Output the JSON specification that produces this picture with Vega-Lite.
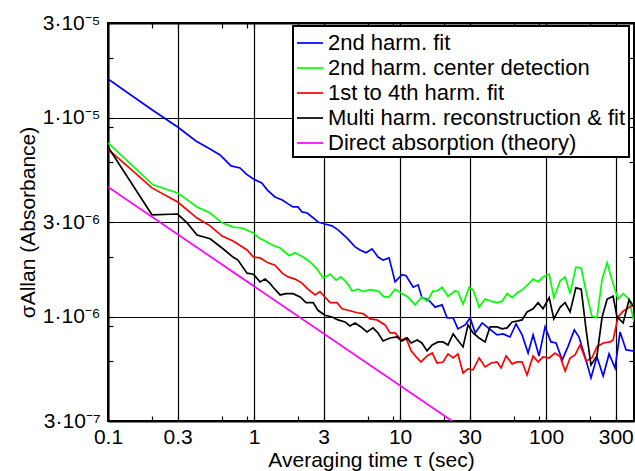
{
  "$schema": "https://vega.github.io/schema/vega-lite/v6.json",
  "width": 526,
  "height": 398,
  "autosize": "none",
  "padding": {"left": 108, "top": 23, "right": 1, "bottom": 50},
  "background": "white",
  "config": {
    "font": "Liberation Sans",
    "view": {"stroke": "black", "strokeWidth": 2},
    "axis": {
      "domainColor": "black", "domainWidth": 2,
      "tickColor": "black", "tickWidth": 1.2, "tickSize": -5,
      "labelColor": "black", "labelFontSize": 21, "labelFont": "Liberation Sans",
      "titleFontSize": 21, "titleFontWeight": "normal", "titleColor": "black", "titleFont": "Liberation Sans",
      "gridColor": "black", "gridWidth": 1.2,
      "labelOverlap": false, "labelFlush": false
    },
    "legend": {"strokeWidth": 2}
  },
  "datasets": {
    "curves": [
      {"series": "2nd harm. fit", "tau": 0.1, "sigma": 1.57e-5},
      {"series": "2nd harm. fit", "tau": 0.2, "sigma": 1.10e-5},
      {"series": "2nd harm. fit", "tau": 0.3, "sigma": 9.0e-6},
      {"series": "2nd harm. fit", "tau": 0.4, "sigma": 7.66e-6},
      {"series": "2nd harm. fit", "tau": 0.5, "sigma": 6.98e-6},
      {"series": "2nd harm. fit", "tau": 0.585, "sigma": 6.52e-6},
      {"series": "2nd harm. fit", "tau": 0.696, "sigma": 5.74e-6},
      {"series": "2nd harm. fit", "tau": 0.802, "sigma": 5.61e-6},
      {"series": "2nd harm. fit", "tau": 0.882, "sigma": 5.23e-6},
      {"series": "2nd harm. fit", "tau": 0.99, "sigma": 4.94e-6},
      {"series": "2nd harm. fit", "tau": 1.13, "sigma": 4.71e-6},
      {"series": "2nd harm. fit", "tau": 1.23, "sigma": 4.35e-6},
      {"series": "2nd harm. fit", "tau": 1.39, "sigma": 4.01e-6},
      {"series": "2nd harm. fit", "tau": 1.56, "sigma": 3.87e-6},
      {"series": "2nd harm. fit", "tau": 1.71, "sigma": 3.70e-6},
      {"series": "2nd harm. fit", "tau": 1.85, "sigma": 3.57e-6},
      {"series": "2nd harm. fit", "tau": 2.0, "sigma": 3.57e-6},
      {"series": "2nd harm. fit", "tau": 2.13, "sigma": 3.37e-6},
      {"series": "2nd harm. fit", "tau": 2.31, "sigma": 3.33e-6},
      {"series": "2nd harm. fit", "tau": 2.5, "sigma": 3.18e-6},
      {"series": "2nd harm. fit", "tau": 2.74, "sigma": 3.0e-6},
      {"series": "2nd harm. fit", "tau": 3.06, "sigma": 2.93e-6},
      {"series": "2nd harm. fit", "tau": 3.42, "sigma": 2.87e-6},
      {"series": "2nd harm. fit", "tau": 3.76, "sigma": 2.74e-6},
      {"series": "2nd harm. fit", "tau": 4.34, "sigma": 2.49e-6},
      {"series": "2nd harm. fit", "tau": 4.92, "sigma": 2.25e-6},
      {"series": "2nd harm. fit", "tau": 5.32, "sigma": 2.17e-6},
      {"series": "2nd harm. fit", "tau": 5.85, "sigma": 2.10e-6},
      {"series": "2nd harm. fit", "tau": 6.43, "sigma": 2.20e-6},
      {"series": "2nd harm. fit", "tau": 7.07, "sigma": 2.0e-6},
      {"series": "2nd harm. fit", "tau": 7.65, "sigma": 1.93e-6},
      {"series": "2nd harm. fit", "tau": 8.41, "sigma": 1.98e-6},
      {"series": "2nd harm. fit", "tau": 9.25, "sigma": 1.50e-6},
      {"series": "2nd harm. fit", "tau": 10.3, "sigma": 1.63e-6},
      {"series": "2nd harm. fit", "tau": 11.0, "sigma": 1.61e-6},
      {"series": "2nd harm. fit", "tau": 12.3, "sigma": 1.41e-6},
      {"series": "2nd harm. fit", "tau": 13.3, "sigma": 1.45e-6},
      {"series": "2nd harm. fit", "tau": 14.1, "sigma": 1.25e-6},
      {"series": "2nd harm. fit", "tau": 15.6, "sigma": 1.22e-6},
      {"series": "2nd harm. fit", "tau": 17.4, "sigma": 1.12e-6},
      {"series": "2nd harm. fit", "tau": 19.4, "sigma": 1.15e-6},
      {"series": "2nd harm. fit", "tau": 21.0, "sigma": 9.89e-7},
      {"series": "2nd harm. fit", "tau": 23.1, "sigma": 9.89e-7},
      {"series": "2nd harm. fit", "tau": 24.9, "sigma": 8.71e-7},
      {"series": "2nd harm. fit", "tau": 27.9, "sigma": 9.12e-7},
      {"series": "2nd harm. fit", "tau": 30.2, "sigma": 9.89e-7},
      {"series": "2nd harm. fit", "tau": 32.7, "sigma": 8.31e-7},
      {"series": "2nd harm. fit", "tau": 36.5, "sigma": 9.33e-7},
      {"series": "2nd harm. fit", "tau": 40.1, "sigma": 8.81e-7},
      {"series": "2nd harm. fit", "tau": 46.2, "sigma": 8.12e-7},
      {"series": "2nd harm. fit", "tau": 50.8, "sigma": 8.22e-7},
      {"series": "2nd harm. fit", "tau": 56.6, "sigma": 7.93e-7},
      {"series": "2nd harm. fit", "tau": 62.3, "sigma": 9.22e-7},
      {"series": "2nd harm. fit", "tau": 68.5, "sigma": 8.12e-7},
      {"series": "2nd harm. fit", "tau": 75.3, "sigma": 6.59e-7},
      {"series": "2nd harm. fit", "tau": 81.5, "sigma": 8.12e-7},
      {"series": "2nd harm. fit", "tau": 89.5, "sigma": 6.37e-7},
      {"series": "2nd harm. fit", "tau": 98.4, "sigma": 8.91e-7},
      {"series": "2nd harm. fit", "tau": 108, "sigma": 7.49e-7},
      {"series": "2nd harm. fit", "tau": 117, "sigma": 7.40e-7},
      {"series": "2nd harm. fit", "tau": 129, "sigma": 6.08e-7},
      {"series": "2nd harm. fit", "tau": 141, "sigma": 7.07e-7},
      {"series": "2nd harm. fit", "tau": 156, "sigma": 8.61e-7},
      {"series": "2nd harm. fit", "tau": 168, "sigma": 7.93e-7},
      {"series": "2nd harm. fit", "tau": 185, "sigma": 6.30e-7},
      {"series": "2nd harm. fit", "tau": 203, "sigma": 4.94e-7},
      {"series": "2nd harm. fit", "tau": 223, "sigma": 6.30e-7},
      {"series": "2nd harm. fit", "tau": 246, "sigma": 5.05e-7},
      {"series": "2nd harm. fit", "tau": 270, "sigma": 6.52e-7},
      {"series": "2nd harm. fit", "tau": 297, "sigma": 5.54e-7},
      {"series": "2nd harm. fit", "tau": 321, "sigma": 8.41e-7},
      {"series": "2nd harm. fit", "tau": 353, "sigma": 6.83e-7},
      {"series": "2nd harm. fit", "tau": 394, "sigma": 6.75e-7},

      {"series": "2nd harm. center detection", "tau": 0.1, "sigma": 7.49e-6},
      {"series": "2nd harm. center detection", "tau": 0.203, "sigma": 4.61e-6},
      {"series": "2nd harm. center detection", "tau": 0.3, "sigma": 4.20e-6},
      {"series": "2nd harm. center detection", "tau": 0.407, "sigma": 3.57e-6},
      {"series": "2nd harm. center detection", "tau": 0.5, "sigma": 3.33e-6},
      {"series": "2nd harm. center detection", "tau": 0.604, "sigma": 2.97e-6},
      {"series": "2nd harm. center detection", "tau": 0.718, "sigma": 2.83e-6},
      {"series": "2nd harm. center detection", "tau": 0.827, "sigma": 2.80e-6},
      {"series": "2nd harm. center detection", "tau": 0.99, "sigma": 2.64e-6},
      {"series": "2nd harm. center detection", "tau": 1.10, "sigma": 2.47e-6},
      {"series": "2nd harm. center detection", "tau": 1.15, "sigma": 2.44e-6},
      {"series": "2nd harm. center detection", "tau": 1.33, "sigma": 2.30e-6},
      {"series": "2nd harm. center detection", "tau": 1.51, "sigma": 2.22e-6},
      {"series": "2nd harm. center detection", "tau": 1.74, "sigma": 2.03e-6},
      {"series": "2nd harm. center detection", "tau": 1.91, "sigma": 2.10e-6},
      {"series": "2nd harm. center detection", "tau": 2.17, "sigma": 2.0e-6},
      {"series": "2nd harm. center detection", "tau": 2.42, "sigma": 1.89e-6},
      {"series": "2nd harm. center detection", "tau": 2.70, "sigma": 1.74e-6},
      {"series": "2nd harm. center detection", "tau": 2.97, "sigma": 1.57e-6},
      {"series": "2nd harm. center detection", "tau": 3.32, "sigma": 1.64e-6},
      {"series": "2nd harm. center detection", "tau": 3.65, "sigma": 1.53e-6},
      {"series": "2nd harm. center detection", "tau": 3.94, "sigma": 1.59e-6},
      {"series": "2nd harm. center detection", "tau": 4.34, "sigma": 1.48e-6},
      {"series": "2nd harm. center detection", "tau": 4.69, "sigma": 1.35e-6},
      {"series": "2nd harm. center detection", "tau": 5.16, "sigma": 1.38e-6},
      {"series": "2nd harm. center detection", "tau": 5.58, "sigma": 1.34e-6},
      {"series": "2nd harm. center detection", "tau": 6.23, "sigma": 1.37e-6},
      {"series": "2nd harm. center detection", "tau": 7.07, "sigma": 1.35e-6},
      {"series": "2nd harm. center detection", "tau": 7.77, "sigma": 1.26e-6},
      {"series": "2nd harm. center detection", "tau": 8.41, "sigma": 1.26e-6},
      {"series": "2nd harm. center detection", "tau": 9.25, "sigma": 1.38e-6},
      {"series": "2nd harm. center detection", "tau": 10.3, "sigma": 1.31e-6},
      {"series": "2nd harm. center detection", "tau": 11.3, "sigma": 1.26e-6},
      {"series": "2nd harm. center detection", "tau": 12.7, "sigma": 1.15e-6},
      {"series": "2nd harm. center detection", "tau": 14.1, "sigma": 1.26e-6},
      {"series": "2nd harm. center detection", "tau": 15.3, "sigma": 1.20e-6},
      {"series": "2nd harm. center detection", "tau": 16.8, "sigma": 1.35e-6},
      {"series": "2nd harm. center detection", "tau": 17.9, "sigma": 1.35e-6},
      {"series": "2nd harm. center detection", "tau": 19.4, "sigma": 1.41e-6},
      {"series": "2nd harm. center detection", "tau": 21.3, "sigma": 1.27e-6},
      {"series": "2nd harm. center detection", "tau": 23.8, "sigma": 1.35e-6},
      {"series": "2nd harm. center detection", "tau": 24.9, "sigma": 1.34e-6},
      {"series": "2nd harm. center detection", "tau": 27.0, "sigma": 1.16e-6},
      {"series": "2nd harm. center detection", "tau": 29.7, "sigma": 1.41e-6},
      {"series": "2nd harm. center detection", "tau": 31.6, "sigma": 1.37e-6},
      {"series": "2nd harm. center detection", "tau": 34.8, "sigma": 1.12e-6},
      {"series": "2nd harm. center detection", "tau": 38.2, "sigma": 1.23e-6},
      {"series": "2nd harm. center detection", "tau": 42.0, "sigma": 1.20e-6},
      {"series": "2nd harm. center detection", "tau": 46.2, "sigma": 1.18e-6},
      {"series": "2nd harm. center detection", "tau": 50.0, "sigma": 1.20e-6},
      {"series": "2nd harm. center detection", "tau": 54.1, "sigma": 1.31e-6},
      {"series": "2nd harm. center detection", "tau": 58.5, "sigma": 1.25e-6},
      {"series": "2nd harm. center detection", "tau": 63.3, "sigma": 1.32e-6},
      {"series": "2nd harm. center detection", "tau": 69.6, "sigma": 1.38e-6},
      {"series": "2nd harm. center detection", "tau": 75.3, "sigma": 1.46e-6},
      {"series": "2nd harm. center detection", "tau": 81.5, "sigma": 1.55e-6},
      {"series": "2nd harm. center detection", "tau": 88.2, "sigma": 1.50e-6},
      {"series": "2nd harm. center detection", "tau": 95.3, "sigma": 1.59e-6},
      {"series": "2nd harm. center detection", "tau": 105, "sigma": 1.64e-6},
      {"series": "2nd harm. center detection", "tau": 113, "sigma": 1.25e-6},
      {"series": "2nd harm. center detection", "tau": 125, "sigma": 1.52e-6},
      {"series": "2nd harm. center detection", "tau": 135, "sigma": 1.59e-6},
      {"series": "2nd harm. center detection", "tau": 146, "sigma": 1.31e-6},
      {"series": "2nd harm. center detection", "tau": 160, "sigma": 1.78e-6},
      {"series": "2nd harm. center detection", "tau": 174, "sigma": 1.76e-6},
      {"series": "2nd harm. center detection", "tau": 188, "sigma": 1.34e-6},
      {"series": "2nd harm. center detection", "tau": 206, "sigma": 1.01e-6},
      {"series": "2nd harm. center detection", "tau": 223, "sigma": 9.89e-7},
      {"series": "2nd harm. center detection", "tau": 242, "sigma": 1.55e-6},
      {"series": "2nd harm. center detection", "tau": 262, "sigma": 1.87e-6},
      {"series": "2nd harm. center detection", "tau": 283, "sigma": 1.53e-6},
      {"series": "2nd harm. center detection", "tau": 311, "sigma": 1.23e-6},
      {"series": "2nd harm. center detection", "tau": 337, "sigma": 1.31e-6},
      {"series": "2nd harm. center detection", "tau": 370, "sigma": 1.23e-6},
      {"series": "2nd harm. center detection", "tau": 400, "sigma": 9.44e-7},

      {"series": "1st to 4th harm. fit", "tau": 0.1, "sigma": 6.98e-6},
      {"series": "1st to 4th harm. fit", "tau": 0.2, "sigma": 4.45e-6},
      {"series": "1st to 4th harm. fit", "tau": 0.3, "sigma": 3.78e-6},
      {"series": "1st to 4th harm. fit", "tau": 0.407, "sigma": 3.14e-6},
      {"series": "1st to 4th harm. fit", "tau": 0.5, "sigma": 2.87e-6},
      {"series": "1st to 4th harm. fit", "tau": 0.604, "sigma": 2.55e-6},
      {"series": "1st to 4th harm. fit", "tau": 0.718, "sigma": 2.41e-6},
      {"series": "1st to 4th harm. fit", "tau": 0.896, "sigma": 2.17e-6},
      {"series": "1st to 4th harm. fit", "tau": 0.99, "sigma": 2.0e-6},
      {"series": "1st to 4th harm. fit", "tau": 1.10, "sigma": 1.98e-6},
      {"series": "1st to 4th harm. fit", "tau": 1.25, "sigma": 1.87e-6},
      {"series": "1st to 4th harm. fit", "tau": 1.39, "sigma": 1.82e-6},
      {"series": "1st to 4th harm. fit", "tau": 1.56, "sigma": 1.66e-6},
      {"series": "1st to 4th harm. fit", "tau": 1.71, "sigma": 1.59e-6},
      {"series": "1st to 4th harm. fit", "tau": 1.91, "sigma": 1.55e-6},
      {"series": "1st to 4th harm. fit", "tau": 2.13, "sigma": 1.48e-6},
      {"series": "1st to 4th harm. fit", "tau": 2.34, "sigma": 1.38e-6},
      {"series": "1st to 4th harm. fit", "tau": 2.62, "sigma": 1.29e-6},
      {"series": "1st to 4th harm. fit", "tau": 2.83, "sigma": 1.34e-6},
      {"series": "1st to 4th harm. fit", "tau": 3.06, "sigma": 1.26e-6},
      {"series": "1st to 4th harm. fit", "tau": 3.32, "sigma": 1.18e-6},
      {"series": "1st to 4th harm. fit", "tau": 3.70, "sigma": 1.18e-6},
      {"series": "1st to 4th harm. fit", "tau": 4.01, "sigma": 1.10e-6},
      {"series": "1st to 4th harm. fit", "tau": 4.40, "sigma": 1.08e-6},
      {"series": "1st to 4th harm. fit", "tau": 5.08, "sigma": 1.05e-6},
      {"series": "1st to 4th harm. fit", "tau": 5.58, "sigma": 1.04e-6},
      {"series": "1st to 4th harm. fit", "tau": 6.23, "sigma": 9.77e-7},
      {"series": "1st to 4th harm. fit", "tau": 6.96, "sigma": 9.66e-7},
      {"series": "1st to 4th harm. fit", "tau": 7.89, "sigma": 9.12e-7},
      {"series": "1st to 4th harm. fit", "tau": 8.54, "sigma": 8.31e-7},
      {"series": "1st to 4th harm. fit", "tau": 9.25, "sigma": 8.31e-7},
      {"series": "1st to 4th harm. fit", "tau": 10.2, "sigma": 7.66e-7},
      {"series": "1st to 4th harm. fit", "tau": 11.0, "sigma": 7.84e-7},
      {"series": "1st to 4th harm. fit", "tau": 11.9, "sigma": 6.75e-7},
      {"series": "1st to 4th harm. fit", "tau": 12.9, "sigma": 6.30e-7},
      {"series": "1st to 4th harm. fit", "tau": 13.9, "sigma": 5.94e-7},
      {"series": "1st to 4th harm. fit", "tau": 15.3, "sigma": 6.37e-7},
      {"series": "1st to 4th harm. fit", "tau": 16.6, "sigma": 6.59e-7},
      {"series": "1st to 4th harm. fit", "tau": 17.9, "sigma": 5.87e-7},
      {"series": "1st to 4th harm. fit", "tau": 19.7, "sigma": 5.94e-7},
      {"series": "1st to 4th harm. fit", "tau": 21.3, "sigma": 6.52e-7},
      {"series": "1st to 4th harm. fit", "tau": 23.1, "sigma": 6.22e-7},
      {"series": "1st to 4th harm. fit", "tau": 24.9, "sigma": 6.52e-7},
      {"series": "1st to 4th harm. fit", "tau": 27.0, "sigma": 5.23e-7},
      {"series": "1st to 4th harm. fit", "tau": 29.2, "sigma": 5.48e-7},
      {"series": "1st to 4th harm. fit", "tau": 31.6, "sigma": 5.42e-7},
      {"series": "1st to 4th harm. fit", "tau": 34.8, "sigma": 6.22e-7},
      {"series": "1st to 4th harm. fit", "tau": 38.2, "sigma": 5.61e-7},
      {"series": "1st to 4th harm. fit", "tau": 42.0, "sigma": 5.87e-7},
      {"series": "1st to 4th harm. fit", "tau": 46.2, "sigma": 5.94e-7},
      {"series": "1st to 4th harm. fit", "tau": 49.2, "sigma": 5.54e-7},
      {"series": "1st to 4th harm. fit", "tau": 53.2, "sigma": 6.37e-7},
      {"series": "1st to 4th harm. fit", "tau": 58.5, "sigma": 5.81e-7},
      {"series": "1st to 4th harm. fit", "tau": 63.3, "sigma": 5.94e-7},
      {"series": "1st to 4th harm. fit", "tau": 68.5, "sigma": 5.94e-7},
      {"series": "1st to 4th harm. fit", "tau": 74.1, "sigma": 5.11e-7},
      {"series": "1st to 4th harm. fit", "tau": 81.5, "sigma": 6.37e-7},
      {"series": "1st to 4th harm. fit", "tau": 88.2, "sigma": 5.94e-7},
      {"series": "1st to 4th harm. fit", "tau": 95.3, "sigma": 6.30e-7},
      {"series": "1st to 4th harm. fit", "tau": 105, "sigma": 6.22e-7},
      {"series": "1st to 4th harm. fit", "tau": 115, "sigma": 6.59e-7},
      {"series": "1st to 4th harm. fit", "tau": 125, "sigma": 6.30e-7},
      {"series": "1st to 4th harm. fit", "tau": 135, "sigma": 5.35e-7},
      {"series": "1st to 4th harm. fit", "tau": 146, "sigma": 6.22e-7},
      {"series": "1st to 4th harm. fit", "tau": 158, "sigma": 6.44e-7},
      {"series": "1st to 4th harm. fit", "tau": 171, "sigma": 7.23e-7},
      {"series": "1st to 4th harm. fit", "tau": 188, "sigma": 6.01e-7},
      {"series": "1st to 4th harm. fit", "tau": 206, "sigma": 6.22e-7},
      {"series": "1st to 4th harm. fit", "tau": 223, "sigma": 7.07e-7},
      {"series": "1st to 4th harm. fit", "tau": 246, "sigma": 7.40e-7},
      {"series": "1st to 4th harm. fit", "tau": 274, "sigma": 7.49e-7},
      {"series": "1st to 4th harm. fit", "tau": 288, "sigma": 7.66e-7},
      {"series": "1st to 4th harm. fit", "tau": 311, "sigma": 1.0e-6},
      {"series": "1st to 4th harm. fit", "tau": 337, "sigma": 1.07e-6},
      {"series": "1st to 4th harm. fit", "tau": 365, "sigma": 1.11e-6},
      {"series": "1st to 4th harm. fit", "tau": 400, "sigma": 1.16e-6},

      {"series": "Multi harm. reconstruction & fit", "tau": 0.1, "sigma": 7.15e-6},
      {"series": "Multi harm. reconstruction & fit", "tau": 0.2, "sigma": 3.26e-6},
      {"series": "Multi harm. reconstruction & fit", "tau": 0.3, "sigma": 3.29e-6},
      {"series": "Multi harm. reconstruction & fit", "tau": 0.348, "sigma": 2.97e-6},
      {"series": "Multi harm. reconstruction & fit", "tau": 0.407, "sigma": 2.58e-6},
      {"series": "Multi harm. reconstruction & fit", "tau": 0.5, "sigma": 2.47e-6},
      {"series": "Multi harm. reconstruction & fit", "tau": 0.604, "sigma": 2.22e-6},
      {"series": "Multi harm. reconstruction & fit", "tau": 0.718, "sigma": 2.0e-6},
      {"series": "Multi harm. reconstruction & fit", "tau": 0.776, "sigma": 1.93e-6},
      {"series": "Multi harm. reconstruction & fit", "tau": 0.896, "sigma": 1.66e-6},
      {"series": "Multi harm. reconstruction & fit", "tau": 0.99, "sigma": 1.64e-6},
      {"series": "Multi harm. reconstruction & fit", "tau": 1.10, "sigma": 1.50e-6},
      {"series": "Multi harm. reconstruction & fit", "tau": 1.19, "sigma": 1.55e-6},
      {"series": "Multi harm. reconstruction & fit", "tau": 1.29, "sigma": 1.47e-6},
      {"series": "Multi harm. reconstruction & fit", "tau": 1.35, "sigma": 1.41e-6},
      {"series": "Multi harm. reconstruction & fit", "tau": 1.51, "sigma": 1.29e-6},
      {"series": "Multi harm. reconstruction & fit", "tau": 1.66, "sigma": 1.31e-6},
      {"series": "Multi harm. reconstruction & fit", "tau": 1.85, "sigma": 1.31e-6},
      {"series": "Multi harm. reconstruction & fit", "tau": 2.07, "sigma": 1.26e-6},
      {"series": "Multi harm. reconstruction & fit", "tau": 2.27, "sigma": 1.18e-6},
      {"series": "Multi harm. reconstruction & fit", "tau": 2.54, "sigma": 1.18e-6},
      {"series": "Multi harm. reconstruction & fit", "tau": 2.74, "sigma": 1.08e-6},
      {"series": "Multi harm. reconstruction & fit", "tau": 3.06, "sigma": 1.02e-6},
      {"series": "Multi harm. reconstruction & fit", "tau": 3.42, "sigma": 1.0e-6},
      {"series": "Multi harm. reconstruction & fit", "tau": 3.76, "sigma": 9.66e-7},
      {"series": "Multi harm. reconstruction & fit", "tau": 4.20, "sigma": 9.44e-7},
      {"series": "Multi harm. reconstruction & fit", "tau": 4.54, "sigma": 9.01e-7},
      {"series": "Multi harm. reconstruction & fit", "tau": 4.92, "sigma": 9.33e-7},
      {"series": "Multi harm. reconstruction & fit", "tau": 5.40, "sigma": 8.91e-7},
      {"series": "Multi harm. reconstruction & fit", "tau": 5.94, "sigma": 8.41e-7},
      {"series": "Multi harm. reconstruction & fit", "tau": 6.53, "sigma": 8.81e-7},
      {"series": "Multi harm. reconstruction & fit", "tau": 7.07, "sigma": 8.31e-7},
      {"series": "Multi harm. reconstruction & fit", "tau": 7.65, "sigma": 7.57e-7},
      {"series": "Multi harm. reconstruction & fit", "tau": 8.54, "sigma": 7.84e-7},
      {"series": "Multi harm. reconstruction & fit", "tau": 9.54, "sigma": 7.93e-7},
      {"series": "Multi harm. reconstruction & fit", "tau": 10.3, "sigma": 7.57e-7},
      {"series": "Multi harm. reconstruction & fit", "tau": 11.2, "sigma": 7.84e-7},
      {"series": "Multi harm. reconstruction & fit", "tau": 11.9, "sigma": 7.40e-7},
      {"series": "Multi harm. reconstruction & fit", "tau": 13.1, "sigma": 7.66e-7},
      {"series": "Multi harm. reconstruction & fit", "tau": 14.1, "sigma": 7.40e-7},
      {"series": "Multi harm. reconstruction & fit", "tau": 15.3, "sigma": 6.75e-7},
      {"series": "Multi harm. reconstruction & fit", "tau": 16.6, "sigma": 7.23e-7},
      {"series": "Multi harm. reconstruction & fit", "tau": 18.2, "sigma": 7.49e-7},
      {"series": "Multi harm. reconstruction & fit", "tau": 19.7, "sigma": 7.49e-7},
      {"series": "Multi harm. reconstruction & fit", "tau": 21.3, "sigma": 7.23e-7},
      {"series": "Multi harm. reconstruction & fit", "tau": 23.1, "sigma": 8.22e-7},
      {"series": "Multi harm. reconstruction & fit", "tau": 24.5, "sigma": 7.75e-7},
      {"series": "Multi harm. reconstruction & fit", "tau": 27.0, "sigma": 7.07e-7},
      {"series": "Multi harm. reconstruction & fit", "tau": 29.2, "sigma": 9.12e-7},
      {"series": "Multi harm. reconstruction & fit", "tau": 31.6, "sigma": 8.31e-7},
      {"series": "Multi harm. reconstruction & fit", "tau": 34.8, "sigma": 7.84e-7},
      {"series": "Multi harm. reconstruction & fit", "tau": 38.2, "sigma": 7.49e-7},
      {"series": "Multi harm. reconstruction & fit", "tau": 41.3, "sigma": 8.91e-7},
      {"series": "Multi harm. reconstruction & fit", "tau": 46.2, "sigma": 8.91e-7},
      {"series": "Multi harm. reconstruction & fit", "tau": 50.0, "sigma": 8.71e-7},
      {"series": "Multi harm. reconstruction & fit", "tau": 54.1, "sigma": 8.81e-7},
      {"series": "Multi harm. reconstruction & fit", "tau": 58.5, "sigma": 9.44e-7},
      {"series": "Multi harm. reconstruction & fit", "tau": 64.3, "sigma": 9.55e-7},
      {"series": "Multi harm. reconstruction & fit", "tau": 68.5, "sigma": 9.66e-7},
      {"series": "Multi harm. reconstruction & fit", "tau": 74.1, "sigma": 1.06e-6},
      {"series": "Multi harm. reconstruction & fit", "tau": 81.5, "sigma": 1.10e-6},
      {"series": "Multi harm. reconstruction & fit", "tau": 88.2, "sigma": 1.18e-6},
      {"series": "Multi harm. reconstruction & fit", "tau": 95.3, "sigma": 1.10e-6},
      {"series": "Multi harm. reconstruction & fit", "tau": 105, "sigma": 1.25e-6},
      {"series": "Multi harm. reconstruction & fit", "tau": 113, "sigma": 9.77e-7},
      {"series": "Multi harm. reconstruction & fit", "tau": 125, "sigma": 1.12e-6},
      {"series": "Multi harm. reconstruction & fit", "tau": 135, "sigma": 1.18e-6},
      {"series": "Multi harm. reconstruction & fit", "tau": 146, "sigma": 1.06e-6},
      {"series": "Multi harm. reconstruction & fit", "tau": 160, "sigma": 1.40e-6},
      {"series": "Multi harm. reconstruction & fit", "tau": 174, "sigma": 1.38e-6},
      {"series": "Multi harm. reconstruction & fit", "tau": 188, "sigma": 8.61e-7},
      {"series": "Multi harm. reconstruction & fit", "tau": 203, "sigma": 5.74e-7},
      {"series": "Multi harm. reconstruction & fit", "tau": 223, "sigma": 6.37e-7},
      {"series": "Multi harm. reconstruction & fit", "tau": 242, "sigma": 1.0e-6},
      {"series": "Multi harm. reconstruction & fit", "tau": 262, "sigma": 1.23e-6},
      {"series": "Multi harm. reconstruction & fit", "tau": 288, "sigma": 1.27e-6},
      {"series": "Multi harm. reconstruction & fit", "tau": 306, "sigma": 1.0e-6},
      {"series": "Multi harm. reconstruction & fit", "tau": 337, "sigma": 9.33e-7},
      {"series": "Multi harm. reconstruction & fit", "tau": 370, "sigma": 1.22e-6},
      {"series": "Multi harm. reconstruction & fit", "tau": 400, "sigma": 1.12e-6},

      {"series": "Direct absorption (theory)", "tau": 0.1, "sigma": 4.5e-6},
      {"series": "Direct absorption (theory)", "tau": 22.7, "sigma": 3.0e-7}
    ]
  },
  "data": {"name": "curves"},
  "layer": [
    {
      "mark": {"type": "line", "strokeWidth": 1.7, "clip": true},
      "encoding": {
        "x": {
          "field": "tau", "type": "quantitative",
          "scale": {"type": "log", "domain": [0.1, 400]},
          "axis": {
            "orient": "bottom",
            "title": "Averaging time τ (sec)",
            "values": [0.1, 0.2, 0.3, 0.6, 0.9, 1, 2, 3, 6, 9, 10, 20, 30, 60, 90, 100, 200, 300],
            "labelExpr": "indexof([0.1, 0.3, 1, 3, 10, 30, 100, 300], datum.value) >= 0 ? '' + datum.value : ''",
            "gridOpacity": {"condition": {"test": "indexof([0.1, 0.3, 1, 3, 10, 30, 100, 300], datum.value) >= 0", "value": 1}, "value": 0},
            "grid": true,
            "labelPadding": 10,
            "titlePadding": 2
          }
        },
        "y": {
          "field": "sigma", "type": "quantitative",
          "scale": {"type": "log", "domain": [3e-7, 3e-5]},
          "axis": {
            "orient": "left",
            "title": "σAllan (Absorbance)",
            "values": [3e-7, 6e-7, 9e-7, 1e-6, 2e-6, 3e-6, 6e-6, 9e-6, 1e-5, 2e-5, 3e-5],
            "labelExpr": "datum.value == 3e-7 ? '3·10⁻⁷' : datum.value == 1e-6 ? '1·10⁻⁶' : datum.value == 3e-6 ? '3·10⁻⁶' : datum.value == 1e-5 ? '1·10⁻⁵' : datum.value == 3e-5 ? '3·10⁻⁵' : ''",
            "gridOpacity": {"condition": {"test": "datum.value == 3e-7 || datum.value == 1e-6 || datum.value == 3e-6 || datum.value == 1e-5 || datum.value == 3e-5", "value": 1}, "value": 0},
            "grid": true,
            "labelPadding": 13,
            "titlePadding": 4
          }
        },
        "color": {
          "field": "series", "type": "nominal",
          "scale": {
            "domain": ["2nd harm. fit", "2nd harm. center detection", "1st to 4th harm. fit", "Multi harm. reconstruction & fit", "Direct absorption (theory)"],
            "range": ["#0000ff", "#00ff00", "#ff0000", "#000000", "#ff00ff"]
          },
          "legend": {
            "orient": "none", "legendX": 185, "legendY": 3,
            "title": null,
            "fillColor": "white", "strokeColor": "black",
            "padding": 3,
            "symbolType": "stroke", "symbolSize": 680, "symbolStrokeWidth": 1.7,
            "labelFontSize": 22, "labelFont": "Liberation Sans", "labelColor": "black",
            "labelLimit": 400, "labelOffset": 4, "rowPadding": 0
          }
        }
      }
    },
    {
      "mark": {"type": "line", "opacity": 0},
      "encoding": {
        "x": {
          "field": "tau", "type": "quantitative",
          "scale": {"type": "log", "domain": [0.1, 400]},
          "axis": {
            "orient": "top", "title": null, "labels": false, "grid": false,
            "values": [0.1, 0.2, 0.3, 0.6, 0.9, 1, 2, 3, 6, 9, 10, 20, 30, 60, 90, 100, 200, 300]
          }
        },
        "y": {
          "field": "sigma", "type": "quantitative",
          "scale": {"type": "log", "domain": [3e-7, 3e-5]},
          "axis": {
            "orient": "right", "title": null, "labels": false, "grid": false,
            "values": [3e-7, 6e-7, 9e-7, 1e-6, 2e-6, 3e-6, 6e-6, 9e-6, 1e-5, 2e-5, 3e-5]
          }
        }
      }
    }
  ],
  "resolve": {"axis": {"x": "independent", "y": "independent"}}
}
